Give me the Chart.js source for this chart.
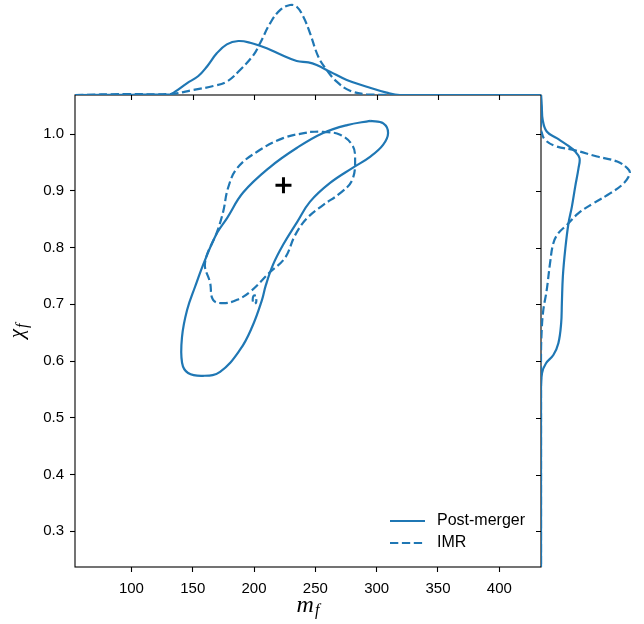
<!DOCTYPE html>
<html>
<head>
<meta charset="utf-8">
<script src="https://cdn.jsdelivr.net/npm/chart.js@4.4.1/dist/chart.umd.min.js"></script>
<style>
  html, body { margin: 0; padding: 0; background: #fff; }
  #quadro { position: relative; width: 644px; height: 624px; }
  #quadro canvas { position: absolute; top: 0; }
</style>
</head>
<body>
<div id="quadro">
  <canvas id="principal" width="644" height="624" style="left:0"></canvas>
  <canvas id="topo" width="644" height="97" style="left:0"></canvas>
  <canvas id="lado" width="114" height="624" style="left:530px"></canvas>
</div>
<script>
const xTicks = [100, 150, 200, 250, 300, 350, 400];
const yTicks = [0.3, 0.4, 0.5, 0.6, 0.7, 0.8, 0.9, 1.0];
const xLimites = [54, 434];
const yLimites = [0.237, 1.069];
const nomesSeries = ['Post-merger', 'IMR'];

// contorno Post-merger (m_f, chi_f)
const pmContornoX = [294.6, 305.4, 309.3, 305.2, 294.6, 280.7, 262.0, 245.7, 235.1, 223.7, 215.5, 209.5, 206.5, 198.4, 188.6, 172.3, 158.4, 146.2, 141.3, 141.3, 145.4, 151.9, 160.0, 169.9, 178.0, 191.1, 213.1, 235.1, 256.3, 275.9, 294.6];
const pmContornoY = [1.0235, 1.019, 1.002, 0.981, 0.960, 0.941, 0.914, 0.881, 0.845, 0.805, 0.770, 0.733, 0.708, 0.660, 0.620, 0.581, 0.574, 0.579, 0.597, 0.643, 0.690, 0.731, 0.778, 0.826, 0.852, 0.897, 0.942, 0.976, 1.002, 1.016, 1.0235];

// contorno IMR
const imrContornoX = [245.7, 256.3, 270.2, 280.0, 282.4, 280.0, 270.2, 256.3, 243.3, 233.5, 225.3, 213.1, 196.8, 186.2, 174.8, 166.6, 164.2, 160.0, 169.9, 174.8, 178.8, 186.2, 202.5, 223.7, 245.7];
const imrContornoY = [1.004, 1.004, 0.999, 0.981, 0.958, 0.919, 0.896, 0.875, 0.852, 0.822, 0.782, 0.757, 0.722, 0.708, 0.702, 0.708, 0.738, 0.773, 0.828, 0.863, 0.905, 0.940, 0.969, 0.993, 1.004];
const imrIlhaX = [201.5, 199.6, 198.9, 199.9, 201.6, 201.9];
const imrIlhaY = [0.716, 0.715, 0.708, 0.701, 0.703, 0.709];

const valorInjetado = { x: 224, y: 0.91 };

// marginal de m_f (densidade relativa)
const pmTopoX = [54, 100, 131.5, 135.6, 145.2, 154.6, 161.5, 169.6, 177.8, 187.2, 196.8, 210.4, 221.2, 234.8, 244.3, 251.1, 262.0, 275.6, 291.9, 308.2, 319.0, 434];
const pmTopoDens = [0, 0.003, 0.008, 0.037, 0.13, 0.211, 0.314, 0.463, 0.563, 0.6, 0.581, 0.519, 0.452, 0.378, 0.363, 0.333, 0.259, 0.167, 0.092, 0.026, 0, 0];
const imrTopoX = [54, 96.2, 131.5, 150.5, 166.8, 177.8, 188.6, 199.5, 204.9, 213.1, 221.2, 229.4, 234.8, 240.2, 245.7, 252.4, 259.3, 267.4, 278.3, 291.9, 313.6, 434];
const imrTopoDens = [0, 0.011, 0.011, 0.056, 0.1, 0.148, 0.278, 0.444, 0.574, 0.797, 0.944, 1.0, 0.981, 0.87, 0.686, 0.426, 0.278, 0.148, 0.048, 0.008, 0, 0];

// marginal de chi_f
const pmLadoChi = [1.069, 1.0517, 1.0252, 1.0046, 0.9929, 0.9811, 0.9693, 0.9577, 0.94, 0.9076, 0.8723, 0.843, 0.796, 0.7489, 0.7019, 0.6667, 0.6314, 0.6107, 0.5961, 0.5785, 0.549, 0.237];
const pmLadoDens = [0, 0.008, 0.019, 0.064, 0.176, 0.289, 0.382, 0.43, 0.419, 0.382, 0.345, 0.307, 0.27, 0.244, 0.233, 0.225, 0.194, 0.138, 0.056, 0.011, 0, 0];
const imrLadoChi = [1.069, 1.0134, 1.005, 0.99, 0.9781, 0.9723, 0.9605, 0.9517, 0.94, 0.9312, 0.9136, 0.8959, 0.8783, 0.8607, 0.84, 0.8254, 0.8078, 0.7725, 0.7254, 0.6901, 0.6548, 0.6078, 0.237];
const imrLadoDens = [0, 0, 0.005, 0.045, 0.176, 0.363, 0.626, 0.851, 0.963, 0.992, 0.925, 0.775, 0.588, 0.419, 0.289, 0.194, 0.138, 0.101, 0.064, 0.026, 0.008, 0, 0];

const azul = '#1f77b4';
const tracejado = [8.3, 3.6];
const espessura = 2.2;

const pares = (xs, ys) => xs.map((x, i) => ({ x, y: ys[i] }));

function linha(label, dados, dash) {
  return {
    label,
    data: dados,
    showLine: true,
    borderColor: azul,
    borderWidth: espessura,
    borderDash: dash || [],
    pointRadius: 0,
    tension: 0.4,
    fill: false
  };
}

const fonteTicks = { family: '"Liberation Sans", Arial, sans-serif', size: 15 };

const molduraPlugin = {
  id: 'moldura',
  afterDraw(chart) {
    const { ctx, chartArea: a, scales: { x, y } } = chart;
    ctx.save();
    ctx.strokeStyle = '#000';
    ctx.lineWidth = 1.1;
    ctx.strokeRect(a.left, a.top, a.right - a.left, a.bottom - a.top);

    // ticks para dentro no topo e na direita
    ctx.beginPath();
    xTicks.forEach(v => {
      const px = Math.round(x.getPixelForValue(v)) + 0.5;
      ctx.moveTo(px, a.top); ctx.lineTo(px, a.top + 5);
    });
    yTicks.forEach(v => {
      const py = Math.round(y.getPixelForValue(v)) + 0.5;
      ctx.moveTo(a.right, py); ctx.lineTo(a.right - 5, py);
    });
    ctx.stroke();

    // legenda
    ctx.font = '16px "Liberation Sans", Arial, sans-serif';
    ctx.textBaseline = 'middle';
    ctx.fillStyle = '#000';
    nomesSeries.forEach((nome, i) => {
      const ly = a.bottom - 46 + i * 22;
      const lx = a.right - 151;
      ctx.save();
      ctx.strokeStyle = azul;
      ctx.lineWidth = espessura;
      ctx.setLineDash(i === 0 ? [] : tracejado);
      ctx.beginPath();
      ctx.moveTo(lx, ly); ctx.lineTo(lx + 35, ly);
      ctx.stroke();
      ctx.restore();
      ctx.fillText(nome, lx + 47, ly);
    });

    // títulos dos eixos
    ctx.textBaseline = 'alphabetic';
    ctx.font = 'italic 24px "Liberation Serif", serif';
    const wm = ctx.measureText('m').width;
    ctx.font = 'italic 16px "Liberation Serif", serif';
    const wf = ctx.measureText('f').width;
    let tx = (a.left + a.right) / 2 - (wm + wf + 1) / 2;
    ctx.font = 'italic 24px "Liberation Serif", serif';
    ctx.fillText('m', tx, 612);
    ctx.font = 'italic 16px "Liberation Serif", serif';
    ctx.fillText('f', tx + wm + 1, 615);

    ctx.translate(23, (a.top + a.bottom) / 2);
    ctx.rotate(-Math.PI / 2);
    ctx.font = 'italic 21px "Liberation Serif", serif';
    const wc = ctx.measureText('χ').width;
    tx = -(wc + wf + 1) / 2;
    ctx.fillText('χ', tx, 0);
    ctx.font = 'italic 16px "Liberation Serif", serif';
    ctx.fillText('f', tx + wc + 1, 4);
    ctx.restore();
  }
};

new Chart(document.getElementById('principal'), {
  type: 'scatter',
  data: {
    datasets: [
      linha(nomesSeries[0], pares(pmContornoX, pmContornoY)),
      linha(nomesSeries[1], pares(imrContornoX, imrContornoY), tracejado),
      linha(nomesSeries[1], pares(imrIlhaX, imrIlhaY), tracejado),
      {
        label: 'injetado',
        data: [valorInjetado],
        pointStyle: 'cross',
        pointRadius: 8,
        borderColor: '#000',
        borderWidth: 3
      }
    ]
  },
  options: {
    responsive: false,
    animation: false,
    devicePixelRatio: 1,
    layout: { padding: { left: 0, top: 95, right: 103, bottom: 0 } },
    plugins: { legend: { display: false }, tooltip: { enabled: false } },
    scales: {
      x: {
        type: 'linear',
        min: xLimites[0],
        max: xLimites[1],
        afterBuildTicks: s => { s.ticks = xTicks.map(v => ({ value: v })); },
        afterFit: s => { s.height = 57; },
        grid: { drawOnChartArea: false, tickLength: 5, tickColor: '#000', tickWidth: 1.1 },
        border: { display: false },
        ticks: { color: '#000', font: fonteTicks, padding: 8, maxRotation: 0 }
      },
      y: {
        type: 'linear',
        min: yLimites[0],
        max: yLimites[1],
        afterBuildTicks: s => { s.ticks = yTicks.map(v => ({ value: v })); },
        afterFit: s => { s.width = 75; },
        grid: { drawOnChartArea: false, tickLength: 5, tickColor: '#000', tickWidth: 1.1 },
        border: { display: false },
        ticks: { color: '#000', font: fonteTicks, padding: 6, callback: v => v.toFixed(1) }
      }
    }
  },
  plugins: [molduraPlugin]
});

new Chart(document.getElementById('topo'), {
  type: 'scatter',
  data: {
    datasets: [
      linha(nomesSeries[0], pares(pmTopoX, pmTopoDens)),
      linha(nomesSeries[1], pares(imrTopoX, imrTopoDens), tracejado)
    ]
  },
  options: {
    responsive: false,
    animation: false,
    devicePixelRatio: 1,
    layout: { padding: { left: 75, top: 0, right: 103, bottom: 2 } },
    plugins: { legend: { display: false }, tooltip: { enabled: false } },
    scales: {
      x: { display: false, min: xLimites[0], max: xLimites[1] },
      y: { display: false, min: 0, max: 1.056 }
    }
  }
});

new Chart(document.getElementById('lado'), {
  type: 'scatter',
  data: {
    datasets: [
      linha(nomesSeries[0], pares(pmLadoDens, pmLadoChi)),
      linha(nomesSeries[1], pares(imrLadoDens, imrLadoChi), tracejado)
    ]
  },
  options: {
    responsive: false,
    animation: false,
    devicePixelRatio: 1,
    layout: { padding: { left: 11, top: 95, right: 0, bottom: 57 } },
    plugins: { legend: { display: false }, tooltip: { enabled: false } },
    scales: {
      x: { display: false, min: 0, max: 1.15 },
      y: { display: false, min: yLimites[0], max: yLimites[1] }
    }
  }
});
</script>
</body>
</html>
